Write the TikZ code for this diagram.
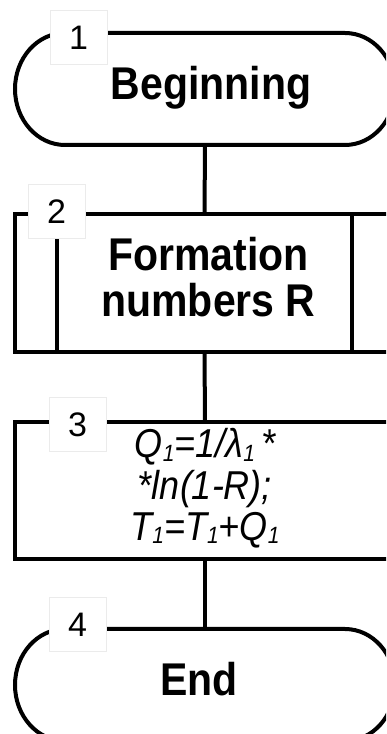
\documentclass[tikz,border=0pt]{standalone}
\usepackage{fontspec}
\usepackage{graphicx}
\setmainfont{Liberation Sans}
\newcommand{\tallstack}[1]{\scalebox{1}[1.12]{\begin{tabular}{@{}c@{}}#1\end{tabular}}}
\newcommand{\sbone}{\raisebox{-3pt}{\fontsize{21}{21}\selectfont 1}}
\begin{document}
\begin{tikzpicture}[x=1pt,y=1pt,
  lw/.style={line width=4pt},
  frame/.style={inner sep=0pt, outer sep=0pt, draw=none},
  numlabel/.style={fill=white, draw=black!8, line width=1pt, minimum width=57pt, minimum height=54pt, inner sep=0pt, font=\fontsize{34}{34}\selectfont},
  maintext/.style={font=\bfseries\fontsize{41}{37.5}\selectfont, align=center},
  formtext/.style={font=\itshape\fontsize{36}{36.5}\selectfont, align=center}]
\useasboundingbox (0,0) rectangle (386,734);
\fill[white] (0,0) rectangle (386,734);
\clip (0,0) rectangle (386,734);

% shapes
\node[frame, maintext, minimum width=380pt, minimum height=112pt] (t1) at (205,645) {\hspace*{12pt}\tallstack{Beginning}};
\node[frame, maintext, minimum width=379pt, minimum height=138pt] (b2) at (204.5,451) {\raisebox{3pt}{\hspace*{8pt}\tallstack{Formation\\numbers R}}};
\node[frame, formtext, minimum width=380pt, minimum height=137pt] (b3) at (205,243.5) {\raisebox{-9pt}{\tallstack{Q\sbone=1/λ\sbone\,*\\{}*ln(1-R);\\T\sbone=T\sbone+Q\sbone}}};
\node[frame, maintext, minimum width=380pt, minimum height=112pt] (t4) at (205,49) {\hspace*{-12pt}\tallstack{End}};

% terminal 1 outline
\draw[lw] ([xshift=50pt]t1.north west) -- ([xshift=-50pt]t1.north east)
  arc[start angle=90, end angle=-90, x radius=50pt, y radius=56pt]
  -- ([xshift=50pt]t1.south west)
  arc[start angle=270, end angle=90, x radius=50pt, y radius=56pt] -- cycle;
% box 2 outline (predefined process)
\draw[lw] (b2.south west) rectangle (b2.north east);
\draw[lw] ([xshift=42pt]b2.north west) -- ([xshift=42pt]b2.south west);
\draw[lw] ([xshift=-42pt]b2.north east) -- ([xshift=-42pt]b2.south east);
% box 3 outline
\draw[lw] (b3.south west) rectangle (b3.north east);
% terminal 4 outline
\draw[lw] ([xshift=50pt]t4.north west) -- ([xshift=-50pt]t4.north east)
  arc[start angle=90, end angle=-90, x radius=50pt, y radius=56pt]
  -- ([xshift=50pt]t4.south west)
  arc[start angle=270, end angle=90, x radius=50pt, y radius=56pt] -- cycle;

% connectors
\draw[lw] (t1.south) -- (b2.north);
\draw[lw] (b2.south) -- (b3.north);
\draw[lw] (b3.south) -- (t4.north);

% number labels
\node[numlabel] (n1) at (78.5,696) {1};
\node[numlabel] (n2) at (56.5,522) {2};
\node[numlabel] (n3) at (77.5,309) {3};
\node[numlabel] (n4) at (77.5,109) {4};
\end{tikzpicture}
\end{document}
